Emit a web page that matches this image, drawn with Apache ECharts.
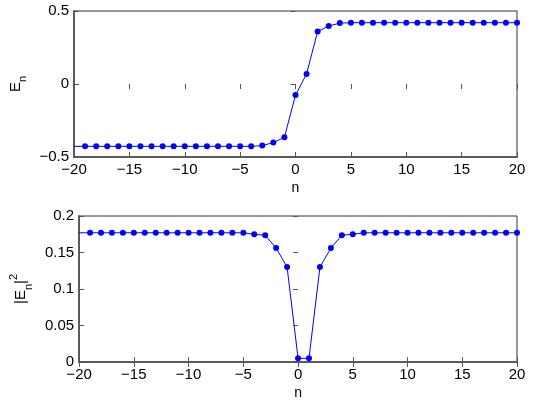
<!DOCTYPE html>
<html>
<head>
<meta charset="utf-8">
<script src="https://cdn.jsdelivr.net/npm/echarts@6/dist/echarts.min.js"></script>
<style>
  html, body { margin: 0; padding: 0; background: #fff; }
  #chart { width: 537px; height: 403px; }
</style>
</head>
<body>
<div id="chart"></div>
<script>
// site index n (the line also runs to n = -20, drawn without a marker)
const nValues = [-20, -19, -18, -17, -16, -15, -14, -13, -12, -11, -10, -9, -8, -7, -6, -5, -4, -3, -2, -1,
  0, 1, 2, 3, 4, 5, 6, 7, 8, 9, 10, 11, 12, 13, 14, 15, 16, 17, 18, 19, 20]

// E_n
const eValues = [-0.427, -0.427, -0.427, -0.427, -0.427, -0.427, -0.427, -0.427, -0.427, -0.427, -0.427,
  -0.427, -0.427, -0.427, -0.427, -0.427, -0.427, -0.422, -0.401, -0.365,
  -0.076, 0.069, 0.360, 0.397, 0.417, 0.420, 0.420, 0.420, 0.420, 0.420, 0.420,
  0.420, 0.420, 0.420, 0.420, 0.420, 0.420, 0.420, 0.420, 0.420, 0.420]

// |E_n|^2
const e2Values = [0.177, 0.177, 0.177, 0.177, 0.177, 0.177, 0.177, 0.177, 0.177, 0.177, 0.177,
  0.177, 0.177, 0.177, 0.177, 0.177, 0.175, 0.1736, 0.156, 0.130,
  0.005, 0.005, 0.130, 0.156, 0.1736, 0.175, 0.177, 0.177, 0.177, 0.177, 0.177,
  0.177, 0.177, 0.177, 0.177, 0.177, 0.177, 0.177, 0.177, 0.177, 0.177]

const xTicks = [-20, -15, -10, -5, 0, 5, 10, 15, 20]
const eTicks = [-0.5, 0, 0.5]
const e2Ticks = [0, 0.05, 0.1, 0.15, 0.2]

const font = 'Liberation Sans, Arial, sans-serif'
const minus = v => String(v).replace('-', '\u2212')

function points(values) {
  return nValues.map((n, i) => {
    const p = { value: [n, values[i]] }
    if (i === 0) p.symbol = 'none'
    return p
  })
}

function xAxes(gridIndex) {
  const base = {
    gridIndex,
    type: 'value',
    min: xTicks[0],
    max: xTicks[xTicks.length - 1],
    interval: 5,
    splitLine: { show: false },
    axisTick: { inside: true, length: 5, lineStyle: { color: '#555' } }
  }
  return [
    Object.assign({}, base, {
      position: 'bottom',
      name: 'n',
      nameLocation: 'middle',
      nameGap: 24,
      nameTextStyle: { fontFamily: font, fontSize: 14, color: '#000' },
      axisLine: { onZero: false, lineStyle: { color: '#5a5a5a', width: 2 } },
      axisLabel: { fontFamily: font, fontSize: 15, color: '#000', margin: 5, formatter: minus }
    }),
    Object.assign({}, base, {
      position: 'top',
      axisLine: { show: false },
      axisLabel: { show: false }
    })
  ]
}

function yAxes(gridIndex, ticks, name) {
  const base = {
    gridIndex,
    type: 'value',
    min: ticks[0],
    max: ticks[ticks.length - 1],
    interval: ticks[1] - ticks[0],
    splitLine: { show: false },
    axisTick: { inside: true, length: 5, lineStyle: { color: '#555' } }
  }
  return [
    Object.assign({}, base, {
      position: 'left',
      name,
      nameLocation: 'middle',
      nameRotate: 90,
      nameGap: 37,
      nameTextStyle: {
        fontFamily: font, fontSize: 15, color: '#000',
        rich: {
          m: { fontFamily: font, fontSize: 15, lineHeight: 26, verticalAlign: 'middle' },
          sub: { fontFamily: font, fontSize: 11, lineHeight: 26, verticalAlign: 'bottom' },
          sup: { fontFamily: font, fontSize: 11, lineHeight: 26, verticalAlign: 'top' }
        }
      },
      axisLine: { onZero: false, lineStyle: { color: '#5a5a5a', width: 2 } },
      axisLabel: { fontFamily: font, fontSize: 15, color: '#000', margin: 5, formatter: minus }
    }),
    Object.assign({}, base, {
      position: 'right',
      axisLine: { show: false },
      axisLabel: { show: false }
    })
  ]
}

function series(xAxisIndex, yAxisIndex, values) {
  return {
    type: 'line',
    xAxisIndex,
    yAxisIndex,
    data: points(values),
    clip: false,
    symbol: 'circle',
    symbolSize: 6,
    showSymbol: true,
    animation: false,
    lineStyle: { color: '#0000ff', width: 1 },
    itemStyle: { color: '#0000ff' }
  }
}

const chart = echarts.init(document.getElementById('chart'))
chart.setOption({
  animation: false,
  grid: [
    { left: 71, right: 20, top: 11, height: 146, show: true, borderColor: '#333', borderWidth: 1 },
    { left: 71, right: 20, top: 216, height: 146, show: true, borderColor: '#333', borderWidth: 1 }
  ],
  xAxis: xAxes(0).concat(xAxes(1)),
  yAxis: yAxes(0, eTicks, '{m|E}{sub|n}').concat(yAxes(1, e2Ticks, '{m||E}{sub|n}{m||}{sup|2}')),
  series: [
    series(0, 0, eValues),
    series(2, 2, e2Values)
  ]
})
</script>
</body>
</html>
